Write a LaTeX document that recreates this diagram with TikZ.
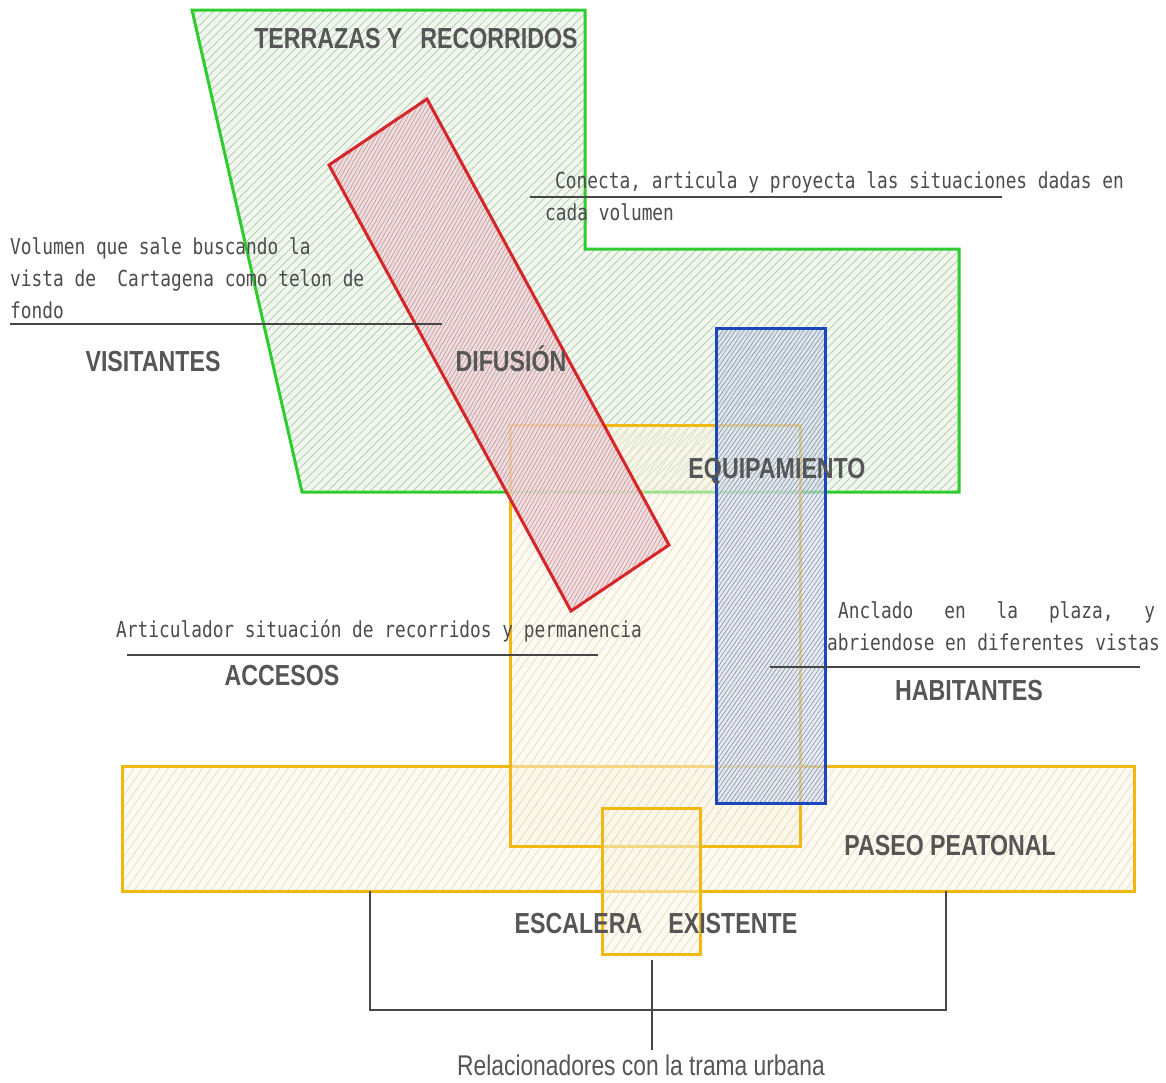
\documentclass[tikz,border=0pt]{standalone}
\usepackage{fontspec}
\usetikzlibrary{patterns.meta, positioning}

\newfontfamily\rotulofont[FakeStretch=0.8, BoldFont={Liberation Sans Bold}]{Liberation Sans}
\newfontfamily\notafont[FakeStretch=0.81]{DejaVu Sans Mono}

\definecolor{verdeB}{RGB}{46,204,46}
\definecolor{verdeF}{RGB}{238,246,236}
\definecolor{verdeH}{RGB}{168,202,168}
\definecolor{rojoB}{RGB}{214,38,42}
\definecolor{rojoF}{RGB}{242,214,218}
\definecolor{rojoH}{RGB}{192,150,158}
\definecolor{azulB}{RGB}{28,70,190}
\definecolor{azulF}{RGB}{214,222,238}
\definecolor{azulH}{RGB}{135,148,172}
\definecolor{amarB}{RGB}{242,184,18}
\definecolor{amarF}{RGB}{251,247,230}
\definecolor{amarH}{RGB}{232,220,180}
\definecolor{textoG}{RGB}{86,86,86}
\definecolor{notaG}{RGB}{76,76,76}
\definecolor{reglaG}{RGB}{70,70,70}

\begin{document}
\begin{tikzpicture}[x=1pt, y=-1pt]
	\tikzstyle{zona} = [line width=3pt, line join=miter]
	\tikzstyle{verde} = [zona, draw=verdeB, preaction={fill=verdeF, fill opacity=.8}, pattern={Lines[angle=45, distance=6pt, line width=.7pt]}, pattern color=verdeH]
	\tikzstyle{rojo} = [zona, draw=rojoB, preaction={fill=rojoF, fill opacity=.75}, pattern={Lines[angle=60, distance=3.5pt, line width=.6pt]}, pattern color=rojoH]
	\tikzstyle{azul} = [zona, draw=azulB, preaction={fill=azulF, fill opacity=.6}, pattern={Lines[angle=55, distance=3.5pt, line width=.6pt]}, pattern color=azulH]
	\tikzstyle{amar} = [zona, draw=amarB, preaction={fill=amarF, fill opacity=.5}, pattern={Lines[angle=55, distance=7pt, line width=.7pt]}, pattern color=amarH]
	\tikzstyle{rotulo} = [font=\rotulofont\bfseries\fontsize{29}{31}\selectfont, text=textoG, inner sep=0pt, anchor=base]
	\tikzstyle{nota} = [font=\notafont\fontsize{22}{32}\selectfont, text=notaG, inner sep=0pt, anchor=base west]
	\tikzstyle{regla} = [line width=2.5pt, draw=reglaG]

	\useasboundingbox[fill=white] (0,0) rectangle (1166,1082);

	% volumenes
	\draw[verde] (192,10) -- (585,10) -- (585,249) -- (959,249) -- (959,492) -- (302,492) -- cycle;
	\draw[amar] (122,766) rectangle (1134,891);
	\draw[amar] (510,425) rectangle (800,846);
	\draw[rojo] (329,165) -- (427,99) -- (669,545) -- (571,611) -- cycle;
	\draw[azul] (716,328) rectangle (825,803);
	\draw[amar] (602,808) rectangle (700,954);

	% rotulos
	\node[rotulo] (terrazas) at (416,48) {TERRAZAS Y\hspace{18pt}RECORRIDOS};
	\node[rotulo] (visitantes) at (153,371) {VISITANTES};
	\node[rotulo] (difusion) at (511,371) {DIFUSIÓN};
	\node[rotulo] (equipamiento) at (777,478) {EQUIPAMIENTO};
	\node[rotulo] (accesos) at (282,685) {ACCESOS};
	\node[rotulo] (habitantes) at (969,700) {HABITANTES};
	\node[rotulo] (paseo) at (950,855) {PASEO PEATONAL};
	\node[rotulo] (escalera) at (656,933) {ESCALERA\hspace{26pt}EXISTENTE};
	\node[rotulo, font=\rotulofont\fontsize{28.5}{30}\selectfont] (rel) at (641,1075) {Relacionadores con la trama urbana};

	% notas
	\node[nota] (vol1) at (10,254) {Volumen que sale buscando la};
	\node[nota] (vol2) at (10,286) {vista de\ \ Cartagena como telon de};
	\node[nota] (vol3) at (10,318) {fondo};
	\node[nota] (con1) at (555,188) {Conecta, articula y proyecta las situaciones dadas en};
	\node[nota] (con2) at (545,220) {cada volumen};
	\node[nota] (art) at (116,637) {Articulador situación de recorridos y permanencia};
	\node[nota] (anc1) at (838,618) {\makebox[317pt][l]{Anclado\hfill en\hfill la\hfill plaza,\hfill y}};
	\node[nota] (anc2) at (827,650) {abriendose en diferentes vistas};

	% reglas
	\coordinate (volA) at (10,324);
	\coordinate (volB) at (442,324);
	\coordinate (conA) at (530,197);
	\coordinate (conB) at (1002,197);
	\coordinate (artA) at (127,655);
	\coordinate (artB) at (598,655);
	\coordinate (ancA) at (770,667);
	\coordinate (ancB) at (1140,667);
	\draw[regla] (volA) -- (volB);
	\draw[regla] (conA) -- (conB);
	\draw[regla] (artA) -- (artB);
	\draw[regla] (ancA) -- (ancB);

	% llave
	\coordinate (izq) at (370,891);
	\coordinate (der) at (946,891);
	\coordinate (tallo) at (652,960);
	\draw[regla] (izq) -- (izq |- 0,1010) -- (der |- 0,1010) -- (der);
	\draw[regla] (tallo) -- (tallo |- 0,1050);
\end{tikzpicture}
\end{document}
